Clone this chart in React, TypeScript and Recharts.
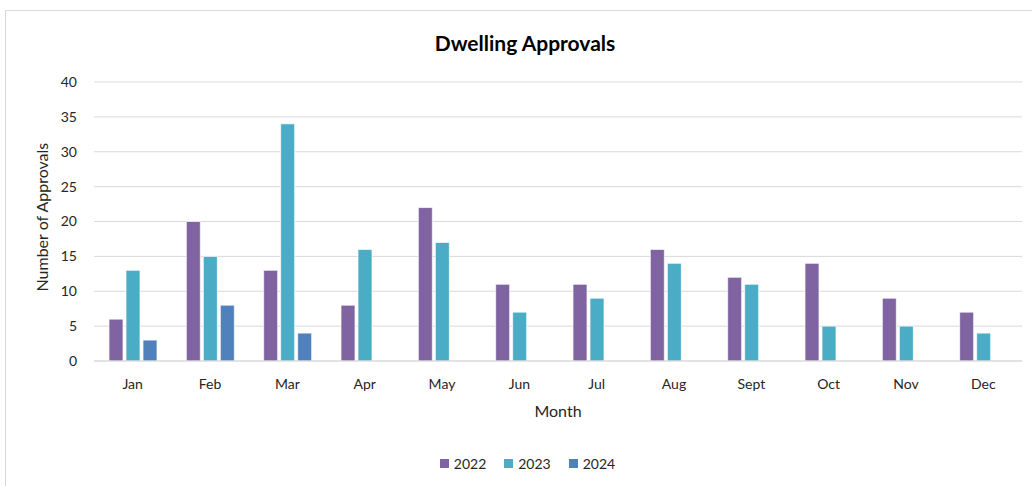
import { BarChart, Bar, XAxis, YAxis, CartesianGrid } from "recharts";

const months = ["Jan", "Feb", "Mar", "Apr", "May", "Jun", "Jul", "Aug", "Sept", "Oct", "Nov", "Dec"];
const approvals2022 = [6, 20, 13, 8, 22, 11, 11, 16, 12, 14, 9, 7];
const approvals2023 = [13, 15, 34, 16, 17, 7, 9, 14, 11, 5, 5, 4];
const approvals2024: (number | null)[] = [3, 8, 4, null, null, null, null, null, null, null, null, null];
const yTicks = [0, 5, 10, 15, 20, 25, 30, 35, 40];

const SERIES = [
  { key: "y2022", name: "2022", color: "#8064A2" },
  { key: "y2023", name: "2023", color: "#4BACC6" },
  { key: "y2024", name: "2024", color: "#4F81BD" },
];

const FONT = "Lato, 'Open Sans', sans-serif";
const TEXT = "#262626";

const data = months.map((m, i) => ({
  month: m,
  y2022: approvals2022[i],
  y2023: approvals2023[i],
  y2024: approvals2024[i],
}));

export default function App() {
  return (
    <div
      style={{
        position: "absolute",
        left: 0,
        top: 0,
        width: 1032,
        height: 486,
        overflow: "hidden",
        background: "#fff",
        fontFamily: FONT,
      }}
    >
      {/* chart frame, runs off the right and bottom edges */}
      <div
        style={{
          position: "absolute",
          left: 5,
          top: 10,
          width: 1100,
          height: 600,
          border: "1px solid #d9d9d9",
        }}
      />
      <div
        style={{
          position: "absolute",
          left: 0,
          width: 1050,
          top: 30,
          textAlign: "center",
          fontSize: 21,
          fontWeight: 700,
          color: "#000",
        }}
      >
        Dwelling Approvals
      </div>

      <div style={{ position: "absolute", left: 0, top: 0 }}>
        <BarChart
          width={1032}
          height={486}
          data={data}
          margin={{ top: 82, right: 10, bottom: 95, left: 30 }}
          barSize={14}
          barGap={3}
        >
          <CartesianGrid vertical={false} stroke="#d9d9d9" />
          <XAxis
            dataKey="month"
            height={30}
            tickLine={false}
            tickSize={0}
            tickMargin={18}
            stroke="#d9d9d9"
            tick={{ fill: TEXT, fontSize: 14, fontFamily: FONT }}
            label={{
              value: "Month",
              position: "insideBottom",
              offset: -26,
              fill: TEXT,
              fontSize: 16,
              fontFamily: FONT,
            }}
          />
          <YAxis
            width={64}
            domain={[0, 40]}
            ticks={yTicks}
            axisLine={false}
            tickLine={false}
            tickSize={0}
            tickMargin={17}
            tick={{ fill: TEXT, fontSize: 14, fontFamily: FONT }}
            label={{
              value: "Number of Approvals",
              angle: -90,
              position: "insideLeft",
              offset: 12,
              dy: 70,
              fill: TEXT,
              fontSize: 16,
              fontFamily: FONT,
            }}
          />
          {SERIES.map((s) => (
            <Bar
              key={s.key}
              dataKey={s.key}
              name={s.name}
              fill={s.color}
              stroke="#ffffff"
              strokeOpacity={0.7}
              isAnimationActive={false}
            />
          ))}
        </BarChart>
      </div>

      <div
        style={{
          position: "absolute",
          top: 455,
          left: 0,
          width: 1055,
          display: "flex",
          justifyContent: "center",
          gap: 18,
          fontSize: 14,
          color: TEXT,
        }}
      >
        {SERIES.map((s) => (
          <div key={s.key} style={{ display: "flex", alignItems: "center", gap: 5 }}>
            <span style={{ width: 9, height: 9, background: s.color, display: "inline-block" }} />
            <span>{s.name}</span>
          </div>
        ))}
      </div>
    </div>
  );
}
